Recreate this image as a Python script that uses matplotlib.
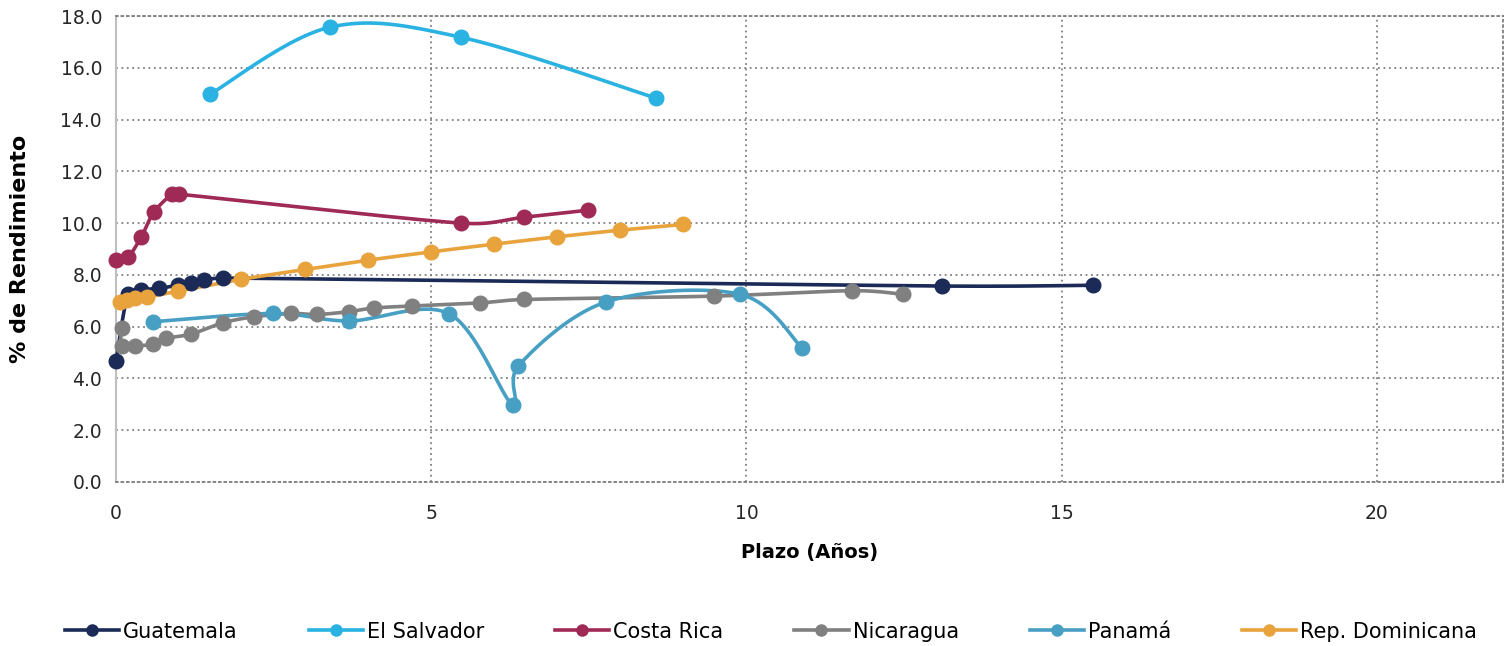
"""Curvas de rendimiento soberano por país (estilo Excel con líneas suavizadas)."""

import matplotlib

matplotlib.use("Agg")
import matplotlib.pyplot as plt  # noqa: E402
import numpy as np  # noqa: E402
from matplotlib.lines import Line2D  # noqa: E402

plt.rcParams["font.family"] = ["DejaVu Sans"]

# Plazo (años) y rendimiento (%) por país
guatemala_x = [0.0, 0.19, 0.4, 0.68, 0.98, 1.19, 1.4, 1.7, 13.1, 15.5]
guatemala_y = [4.67, 7.25, 7.42, 7.48, 7.6, 7.7, 7.8, 7.88, 7.57, 7.6]

salvador_x = [1.49, 3.39, 5.48, 8.57]
salvador_y = [14.98, 17.57, 17.18, 14.83]

costarica_x = [0.0, 0.19, 0.4, 0.6, 0.89, 1.0, 5.48, 6.48, 7.48]
costarica_y = [8.57, 8.69, 9.46, 10.42, 11.12, 11.12, 10.0, 10.23, 10.5]

nicaragua_x = [0.09, 0.09, 0.3, 0.59, 0.8, 1.19, 1.7, 2.19, 2.78, 3.19,
               3.69, 4.09, 4.7, 5.78, 6.48, 9.48, 11.68, 12.49]
nicaragua_y = [5.96, 5.26, 5.26, 5.32, 5.55, 5.71, 6.15, 6.38, 6.51, 6.47,
               6.58, 6.72, 6.8, 6.92, 7.05, 7.18, 7.39, 7.25]

panama_x = [0.59, 2.49, 3.69, 5.29, 6.29, 6.38, 7.78, 9.9, 10.88]
panama_y = [6.19, 6.51, 6.22, 6.49, 2.97, 4.48, 6.96, 7.25, 5.19]

repdom_x = [0.06, 0.17, 0.3, 0.5, 0.99, 1.99, 3.0, 4.0, 5.0, 6.0, 6.99, 8.0, 9.0]
repdom_y = [6.96, 7.03, 7.09, 7.15, 7.37, 7.83, 8.21, 8.57, 8.89, 9.19, 9.47, 9.73, 9.95]

SERIES = [
    ("Guatemala", guatemala_x, guatemala_y, "#1B2A57"),
    ("El Salvador", salvador_x, salvador_y, "#2AB2E2"),
    ("Costa Rica", costarica_x, costarica_y, "#9E2A55"),
    ("Nicaragua", nicaragua_x, nicaragua_y, "#808080"),
    ("Panamá", panama_x, panama_y, "#47A0C4"),
    ("Rep. Dominicana", repdom_x, repdom_y, "#E8A33D"),
]

X_RANGE, Y_RANGE = 22.0, 18.0
ASPECT = np.array([1387.0 / X_RANGE, 466.0 / Y_RANGE])  # approx px per data unit


def _limit(offset, seg, k=0.5):
    """Shrink a control-point offset so it never exceeds k * segment length (screen space)."""
    o_len = np.hypot(*(offset * ASPECT))
    s_len = np.hypot(*(seg * ASPECT))
    if o_len > k * s_len and o_len > 0:
        offset = offset * (k * s_len / o_len)
    return offset


def smooth_line(x, y, steps=40):
    """Excel-like smoothing: cubic Bezier segments with Catmull-Rom tangents."""
    p = np.column_stack([x, y]).astype(float)
    n = len(p)
    t = np.linspace(0.0, 1.0, steps)[:, None]
    out = [p[:1]]
    for i in range(n - 1):
        p0 = p[i - 1] if i > 0 else p[i]
        p3 = p[i + 2] if i + 2 < n else p[i + 1]
        seg = p[i + 1] - p[i]
        c1 = p[i] + _limit((p[i + 1] - p0) / 6.0, seg)
        c2 = p[i + 1] - _limit((p3 - p[i]) / 6.0, seg)
        bez = ((1 - t) ** 3 * p[i] + 3 * (1 - t) ** 2 * t * c1
               + 3 * (1 - t) * t ** 2 * c2 + t ** 3 * p[i + 1])
        out.append(bez[1:])
    curve = np.vstack(out)
    return curve[:, 0], curve[:, 1]


fig, ax = plt.subplots(figsize=(15.12, 6.46), dpi=100)
fig.subplots_adjust(left=0.0767, right=0.994, top=0.975, bottom=0.254)

handles = []
for name, xs, ys, color in SERIES:
    sx, sy = smooth_line(xs, ys)
    ax.plot(sx, sy, color=color, lw=2.6, solid_capstyle="round", zorder=3, clip_on=False)
    ax.plot(xs, ys, linestyle="none", marker="o", ms=10.5, color=color, zorder=4,
            clip_on=False)
    handles.append(Line2D([], [], color=color, lw=2.6, marker="o", ms=8, label=name))

ax.set_xlim(0, X_RANGE)
ax.set_ylim(0, Y_RANGE)
ax.set_xticks([0, 5, 10, 15, 20])
ax.set_yticks(np.arange(0, 18.1, 2))
ax.set_yticklabels([f"{v:.1f}" for v in np.arange(0, 18.1, 2)])
ax.tick_params(axis="both", length=0, labelsize=13.5, labelcolor="#262626")
ax.tick_params(axis="x", pad=16)
ax.tick_params(axis="y", pad=10)

ax.grid(True, linestyle=(0, (1, 2)), color="#7F7F7F", lw=1.3, zorder=0)
for side in ("top", "right", "bottom"):
    ax.spines[side].set_linestyle((0, (1, 2)))
    ax.spines[side].set_color("#7F7F7F")
    ax.spines[side].set_linewidth(1.3)
ax.spines["left"].set_color("#BFBFBF")
ax.spines["left"].set_linewidth(1.5)
ax.set_axisbelow(True)

ax.set_xlabel("Plazo (Años)", fontsize=14, fontweight="bold", labelpad=14)
ax.set_ylabel("% de Rendimiento", fontsize=16, fontweight="bold", labelpad=22)

fig.legend(handles=handles, loc="center", bbox_to_anchor=(0.51, 0.022), ncol=6,
           frameon=False, fontsize=15, handlelength=2.6, handletextpad=0.2,
           columnspacing=3.4)

fig.savefig("out.png", dpi=100)
plt.close(fig)
